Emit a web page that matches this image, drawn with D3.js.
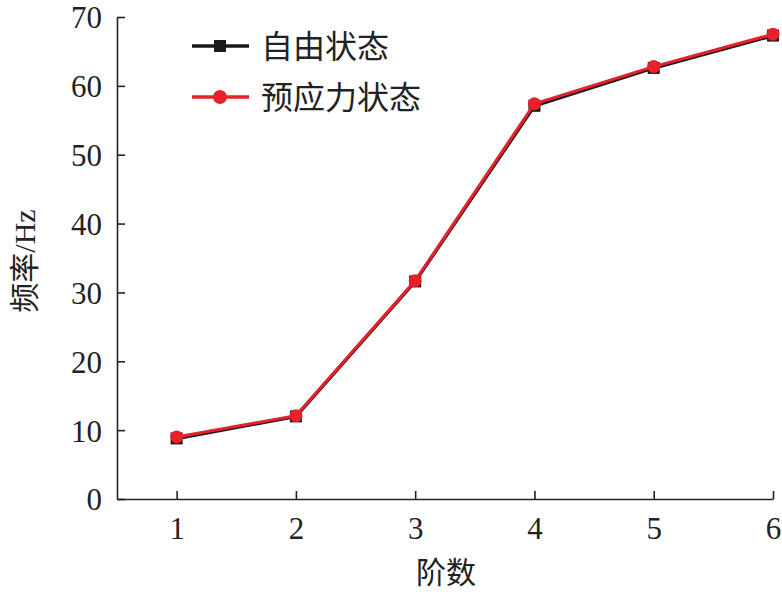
<!DOCTYPE html>
<html><head><meta charset="utf-8">
<script src="https://cdn.jsdelivr.net/npm/d3@7"></script>
<style>body{margin:0;background:#fff}</style>
</head><body>
<script>
const orders = [1, 2, 3, 4, 5, 6];
const freeState = [8.8, 12.0, 31.6, 57.1, 62.6, 67.3];
const prestressState = [9.0, 12.1, 31.7, 57.4, 62.8, 67.5];
const seriesNames = ["自由状态", "预应力状态"];
const yTicks = [0, 10, 20, 30, 40, 50, 60, 70];

const W = 782, H = 592;
const m = {left: 117, right: 9, top: 17, bottom: 93};
const svg = d3.select("body").append("svg").attr("width", W).attr("height", H);
const x = d3.scaleLinear().domain([0.5, 6]).range([m.left, W - m.right]);
const y = d3.scaleLinear().domain([0, 70]).range([H - m.bottom, m.top]);
const numFont = "'Liberation Serif', 'DejaVu Serif', serif";
const cjkFont = "'Noto Sans CJK SC', sans-serif";

const xa = svg.append("g").attr("transform", `translate(0,${H - m.bottom})`)
  .call(d3.axisBottom(x).tickValues(orders).tickSizeInner(-8).tickSizeOuter(0).tickPadding(18).tickFormat(d3.format("d")));
const ya = svg.append("g").attr("transform", `translate(${m.left},0)`)
  .call(d3.axisLeft(y).tickValues(yTicks).tickSizeInner(-8).tickSizeOuter(0).tickPadding(15));
[xa, ya].forEach(a => {
  a.selectAll("path,line").attr("stroke", "#222").attr("stroke-width", 1.6);
  a.selectAll("text").attr("font-family", numFont).attr("font-size", 31).attr("fill", "#222");
});
ya.selectAll("text").attr("dy", "0.35em");
xa.selectAll("text").attr("dy", "0.71em");

svg.append("text").attr("x", 446).attr("y", 583).attr("text-anchor", "middle")
  .attr("font-family", cjkFont).attr("font-size", 30).attr("fill", "#222").text("阶数");
svg.append("text").attr("transform", `translate(35,261) rotate(-90)`).attr("text-anchor", "middle")
  .attr("font-family", cjkFont).attr("font-size", 30).attr("fill", "#222")
  .append("tspan").text("频率").append("tspan").attr("font-family", numFont).text("/Hz");

const line = d3.line().x((d, i) => x(orders[i])).y(d => y(d));
const colors = ["#1a1a1a", "#e8202a"];
svg.append("path").datum(freeState).attr("d", line).attr("fill", "none").attr("stroke", colors[0]).attr("stroke-width", 3.5);
svg.selectAll(".sq").data(freeState).enter().append("rect")
  .attr("x", (d, i) => x(orders[i]) - 6).attr("y", d => y(d) - 6).attr("width", 12).attr("height", 12).attr("fill", colors[0]);
svg.append("path").datum(prestressState).attr("d", line).attr("fill", "none").attr("stroke", colors[1]).attr("stroke-width", 3);
svg.selectAll(".ci").data(prestressState).enter().append("circle")
  .attr("cx", (d, i) => x(orders[i])).attr("cy", d => y(d)).attr("r", 6.5).attr("fill", colors[1]);

const lg = svg.append("g");
seriesNames.forEach((name, i) => {
  const ly = 46 + i * 51;
  lg.append("line").attr("x1", 192).attr("x2", 249).attr("y1", ly).attr("y2", ly).attr("stroke", colors[i]).attr("stroke-width", 3.5);
  if (i === 0) lg.append("rect").attr("x", 214).attr("y", ly - 6).attr("width", 12).attr("height", 12).attr("fill", colors[0]);
  else lg.append("circle").attr("cx", 220).attr("cy", ly).attr("r", 7).attr("fill", colors[1]);
  lg.append("text").attr("x", 261).attr("y", ly).attr("dy", "0.36em").attr("font-family", cjkFont)
    .attr("font-size", 32).attr("fill", "#222").text(name);
});
</script>
</body></html>
